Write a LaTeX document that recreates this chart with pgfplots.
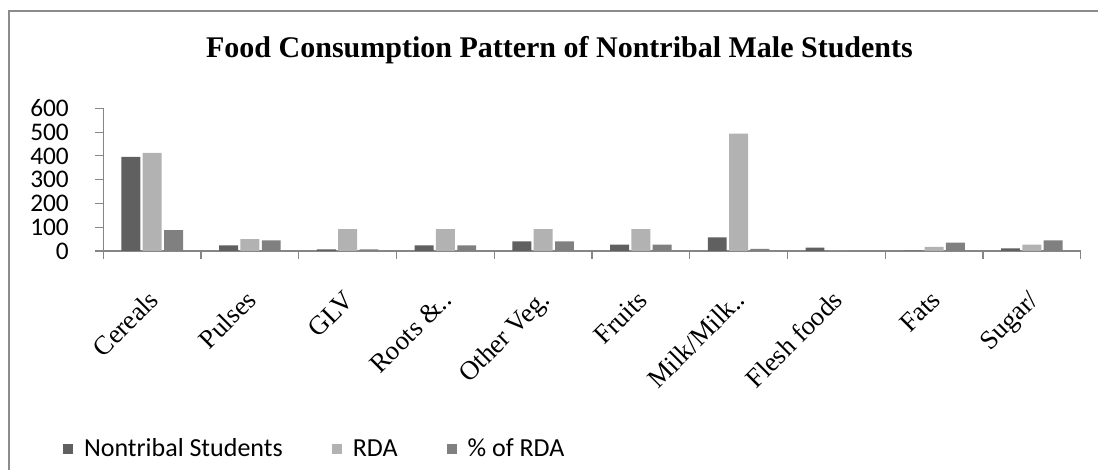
\documentclass[border=0pt]{standalone}
\usepackage{pgfplots}
\pgfplotsset{compat=1.18}
\usepackage{fontspec}
\setmainfont{Liberation Serif}
\newfontfamily\calibri{Carlito}
\definecolor{ntc}{HTML}{606060}
\definecolor{rdac}{HTML}{B2B2B2}
\definecolor{pctc}{HTML}{808080}
\definecolor{axc}{HTML}{868686}
\definecolor{framec}{HTML}{8C8C8C}
\pgfplotsset{sqleg/.style={legend image code/.code={\fill[##1] (0pt,-3.75pt) rectangle (7.5pt,3.75pt);}}}
\begin{document}
\begin{tikzpicture}[x=0.75pt,y=0.75pt]
\useasboundingbox (0,0) rectangle (1098,470);
\draw[framec, line width=1.1pt] (9,0) -- (9,459) -- (1098,459);
\node[anchor=base, font=\fontsize{22.5}{27}\selectfont\bfseries, inner sep=0pt] at (559.5,412) {Food Consumption Pattern of Nontribal Male Students};
\begin{axis}[
  at={(77.5pt,164.25pt)}, anchor=south west,
  scale only axis, width=733pt, height=107pt,
  xmin=-0.5, xmax=9.5, ymin=0, ymax=600,
  ytick={0,100,...,600},
  xtick={0,...,9},
  xticklabels={Cereals,Pulses,GLV,Roots \&..,Other Veg.,Fruits,Milk/Milk..,Flesh foods,Fats,Sugar/},
  minor xtick={-0.5,0.5,...,9.5},
  axis x line*=bottom, axis y line*=left,
  axis line style={axc, line width=0.9pt},
  every tick/.style={axc, line width=0.9pt},
  every major x tick/.append style={draw=none},
  tick align=outside,
  major tick length=6pt, minor tick length=6pt,
  /pgf/number format/assume math mode=true,
  yticklabel shift=19.7pt,
  yticklabel style={font=\calibri\fontsize{19}{22}\selectfont, anchor=east, inner sep=0pt},
  xticklabel style={xshift=6pt, yshift=-32pt, font=\fontsize{20}{24}\selectfont, rotate=45, anchor=base east, inner sep=0pt},
  ybar=1.8pt, bar width=14.2pt,
  legend columns=3,
  legend style={at={(rel axis cs:-0.0412,-1.3875)}, anchor=west, draw=none, fill=none, inner sep=0pt,
    font=\calibri\fontsize{19.5}{23}\selectfont,
    /tikz/every odd column/.append style={column sep=6pt},
    /tikz/every even column/.append style={column sep=35pt}},
]
\addplot[fill=ntc, draw=none, sqleg] coordinates {(0,396) (1,24) (2,7) (3,24) (4,40) (5,27) (6,57) (7,14) (8,2) (9,11)};
\addplot[fill=rdac, draw=none, sqleg] coordinates {(0,413) (1,50) (2,92) (3,92) (4,92) (5,92) (6,494) (7,0) (8,17) (9,27)};
\addplot[fill=pctc, draw=none, sqleg] coordinates {(0,88) (1,45) (2,7) (3,24) (4,40) (5,27) (6,9) (7,0) (8,35) (9,45)};
\legend{Nontribal Students, RDA, \% of RDA}
\end{axis}
\end{tikzpicture}
\end{document}
